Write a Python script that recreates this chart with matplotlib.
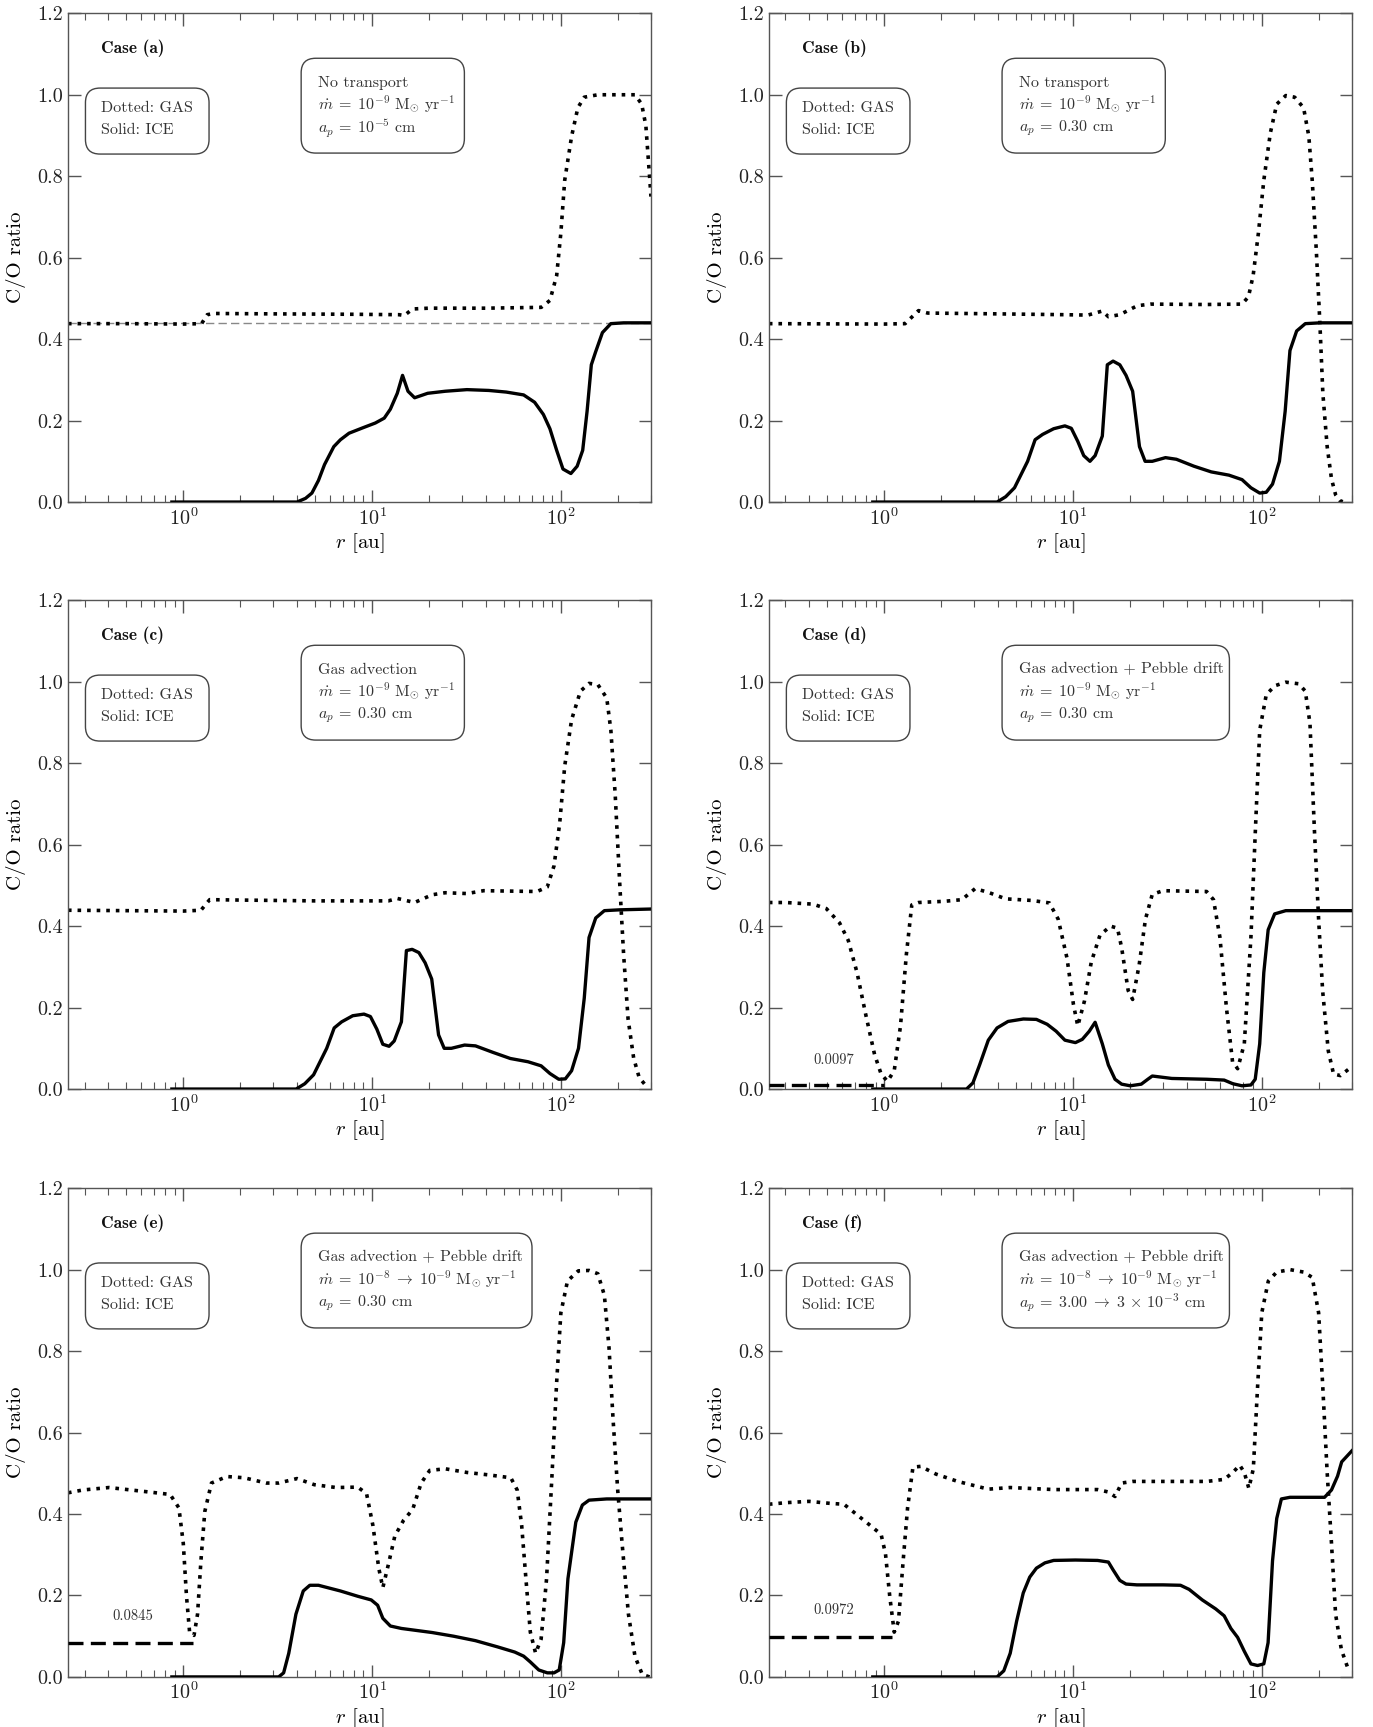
import matplotlib
matplotlib.use('Agg')
import matplotlib.pyplot as plt
from matplotlib.patches import FancyBboxPatch
from matplotlib.ticker import FormatStrFormatter, LogLocator, NullFormatter

plt.rcParams['font.family'] = 'serif'
plt.rcParams['font.serif'] = ['cmr10']
plt.rcParams['mathtext.fontset'] = 'cm'
plt.rcParams['axes.formatter.use_mathtext'] = True
plt.rcParams['axes.unicode_minus'] = False

# ---- data (r in au, C/O ratio) ----
r_gas_a = [0.245, 0.5, 1.0, 1.25, 1.34, 1.45, 3, 8, 13.9, 14.8, 16.4, 20, 40, 78.7, 87.5, 95, 100,
           104.8, 114, 123, 133, 157, 200, 247, 268, 282, 296, 300]
co_gas_a = [0.438, 0.438, 0.437, 0.438, 0.46, 0.463, 0.462, 0.461, 0.460, 0.458, 0.474, 0.476, 0.476,
            0.478, 0.495, 0.556, 0.661, 0.79, 0.898, 0.968, 0.994, 1.0, 1.0, 1.0, 0.977, 0.924, 0.79, 0.75]
r_ice_a = [0.87, 2, 4.0, 4.44, 4.8, 5.2, 5.6, 6.27, 6.8, 7.55, 8.9, 10.4, 11.6, 12.5, 13.6, 14.5, 15.5,
           16.8, 19.7, 24.4, 31.8, 41.5, 51.4, 63.5, 72.6, 80.8, 87.5, 95, 102.6, 113, 122, 130.5,
           137.7, 145, 152.6, 166, 184, 215, 300]
co_ice_a = [0, 0, 0.0, 0.009, 0.022, 0.053, 0.092, 0.136, 0.153, 0.169, 0.182, 0.194, 0.206, 0.228,
            0.267, 0.311, 0.272, 0.256, 0.267, 0.272, 0.276, 0.274, 0.27, 0.263, 0.245, 0.215, 0.18,
            0.127, 0.081, 0.07, 0.088, 0.127, 0.223, 0.337, 0.368, 0.416, 0.438, 0.44, 0.44]

r_gas_b = [0.245, 1.0, 1.29, 1.52, 1.7, 4, 9, 12, 14.3, 15.4, 17.7, 21.9, 25.7, 50, 78.6, 85, 90, 96,
           102.5, 111, 120, 134, 149.4, 166.5, 177.5, 185, 194.5, 203, 210.6, 222, 234, 246, 260, 272]
co_gas_b = [0.438, 0.437, 0.438, 0.47, 0.464, 0.462, 0.46, 0.459, 0.469, 0.455, 0.46, 0.482, 0.486,
            0.485, 0.486, 0.504, 0.556, 0.661, 0.79, 0.906, 0.977, 0.998, 0.994, 0.968, 0.898, 0.79,
            0.617, 0.442, 0.267, 0.136, 0.057, 0.018, 0.003, 0.0]
r_ice_b = [0.87, 2, 3.96, 4.4, 4.9, 5.75, 6.3, 6.9, 7.9, 9.06, 9.8, 10.6, 11.4, 12.3, 13.1, 14.3, 15.2,
           16.3, 17.7, 19.1, 20.7, 22.5, 24.1, 26.3, 30.9, 35.3, 43.7, 54, 67, 78.6, 87.6, 97.5, 105.6,
           114, 124, 133, 141, 153, 170, 204, 300]
co_ice_b = [0, 0, 0.0, 0.013, 0.035, 0.1, 0.153, 0.166, 0.18, 0.187, 0.181, 0.149, 0.114, 0.1, 0.114,
            0.162, 0.337, 0.346, 0.337, 0.311, 0.272, 0.136, 0.1, 0.1, 0.109, 0.105, 0.088, 0.074, 0.066,
            0.055, 0.035, 0.022, 0.024, 0.044, 0.1, 0.223, 0.372, 0.42, 0.438, 0.44, 0.44]

r_gas_c = [0.245, 1.0, 1.24, 1.38, 2, 5, 12.2, 13.6, 16.8, 20.8, 24.4, 31.8, 39, 74.8, 84.7, 92, 98.6,
           104.8, 114, 127, 141, 157, 175, 184, 194, 205, 215, 227, 243, 260, 285]
co_gas_c = [0.439, 0.437, 0.439, 0.465, 0.464, 0.462, 0.462, 0.468, 0.458, 0.477, 0.482, 0.48, 0.487,
            0.485, 0.496, 0.548, 0.653, 0.793, 0.907, 0.977, 0.996, 0.993, 0.96, 0.881, 0.723, 0.505,
            0.33, 0.172, 0.076, 0.028, 0.006]
r_ice_c = [0.87, 2, 3.96, 4.4, 4.9, 5.75, 6.3, 6.9, 7.9, 9.06, 9.8, 10.6, 11.4, 12.3, 13.1, 14.3, 15.2,
           16.3, 17.7, 19.1, 20.7, 22.5, 24.1, 26.3, 30.9, 35.3, 43.7, 54, 67, 78.6, 87.6, 97.5, 105.6,
           114, 124, 133, 141, 153, 170, 204, 300]
co_ice_c = [0, 0, 0.0, 0.013, 0.035, 0.1, 0.15, 0.165, 0.18, 0.184, 0.178, 0.147, 0.11, 0.105, 0.118,
            0.165, 0.34, 0.343, 0.335, 0.31, 0.27, 0.133, 0.1, 0.1, 0.108, 0.106, 0.09, 0.075, 0.067,
            0.057, 0.038, 0.024, 0.025, 0.045, 0.1, 0.223, 0.372, 0.42, 0.438, 0.44, 0.442]

r_gas_d = [0.245, 0.3, 0.42, 0.494, 0.58, 0.645, 0.718, 0.8, 0.889, 0.963, 1.04, 1.13, 1.22, 1.31, 1.4,
           1.52, 2.09, 2.58, 3.03, 3.56, 4.4, 6.07, 7.5, 8.35, 9.3, 10.06, 10.6, 11.5, 12.5, 13.9, 15.8,
           17.2, 18.1, 19.6, 20.7, 22.4, 24.2, 26.3, 30, 51, 55.5, 60, 65, 70, 74.5, 80.8, 87.6, 92.5,
           97.5, 105.6, 117, 134, 157, 170, 180, 190, 200, 210, 225, 240, 261, 300]
co_gas_d = [0.458, 0.458, 0.454, 0.443, 0.408, 0.365, 0.286, 0.181, 0.085, 0.037, 0.019, 0.045, 0.155,
            0.33, 0.452, 0.458, 0.461, 0.465, 0.492, 0.483, 0.467, 0.463, 0.457, 0.417, 0.321, 0.207,
            0.155, 0.216, 0.312, 0.378, 0.4, 0.395, 0.347, 0.242, 0.22, 0.304, 0.417, 0.478, 0.487,
            0.485, 0.465, 0.373, 0.199, 0.067, 0.05, 0.111, 0.373, 0.636, 0.881, 0.968, 0.99, 0.999,
            0.995, 0.977, 0.898, 0.636, 0.417, 0.242, 0.094, 0.037, 0.033, 0.055]
r_ice_d = [0.87, 2.73, 2.95, 3.2, 3.56, 3.96, 4.53, 5.46, 6.4, 7.3, 8.14, 9.06, 10.3, 11.2, 12.2, 13.1,
           14.3, 15.4, 16.7, 18.1, 20.1, 23, 24.9, 26.3, 28.5, 33.4, 51.2, 63.2, 70.3, 78.6, 87.6, 92.3,
           97.5, 102.5, 108.1, 117, 134, 300]
co_ice_d = [0, 0.0, 0.015, 0.059, 0.12, 0.15, 0.166, 0.172, 0.171, 0.159, 0.142, 0.12, 0.114, 0.122,
            0.142, 0.164, 0.111, 0.059, 0.024, 0.012, 0.008, 0.012, 0.024, 0.032, 0.03, 0.026, 0.024,
            0.022, 0.013, 0.008, 0.01, 0.024, 0.111, 0.286, 0.391, 0.43, 0.438, 0.438]

r_gas_e = [0.245, 0.294, 0.404, 0.528, 0.689, 0.852, 0.948, 1.0, 1.04, 1.08, 1.14, 1.19, 1.24, 1.3, 1.41,
           1.7, 2.1, 2.75, 3.2, 4.0, 4.94, 6.45, 8.4, 9.35, 10.1, 10.85, 11.4, 12.2, 13.2, 14.7, 16.4,
           18.2, 20.2, 24.4, 31.8, 41.5, 54.3, 58.7, 62, 65.3, 68.9, 73.5, 78.6, 84, 89.9, 94.9, 100,
           108.4, 123.7, 141, 157, 170, 180, 189, 200, 211, 228, 247, 270, 295]
co_gas_e = [0.452, 0.459, 0.465, 0.459, 0.453, 0.448, 0.415, 0.328, 0.198, 0.11, 0.102, 0.154, 0.285,
            0.406, 0.476, 0.492, 0.489, 0.476, 0.476, 0.487, 0.472, 0.465, 0.466, 0.45, 0.372, 0.267,
            0.219, 0.276, 0.346, 0.385, 0.411, 0.476, 0.507, 0.511, 0.502, 0.496, 0.489, 0.459, 0.372,
            0.241, 0.11, 0.058, 0.093, 0.241, 0.502, 0.72, 0.894, 0.972, 0.997, 0.998, 0.99, 0.937,
            0.807, 0.633, 0.459, 0.328, 0.154, 0.05, 0.006, 0.0]
r_ice_e = [0.87, 3.2, 3.4, 3.62, 3.95, 4.32, 4.68, 5.2, 6.8, 8.4, 9.9, 10.7, 11.4, 12.5, 14.3, 20.8, 27,
           35.3, 46, 57, 63.5, 68.8, 76.4, 84.8, 92, 98, 103.5, 109, 120, 130, 141, 175, 300]
co_ice_e = [0, 0.0, 0.01, 0.058, 0.154, 0.211, 0.225, 0.225, 0.211, 0.198, 0.189, 0.176, 0.144, 0.125,
            0.119, 0.109, 0.1, 0.089, 0.074, 0.061, 0.051, 0.037, 0.017, 0.01, 0.01, 0.017, 0.084,
            0.241, 0.38, 0.422, 0.434, 0.437, 0.437]

r_gas_f = [0.245, 0.306, 0.4, 0.52, 0.612, 0.718, 0.843, 0.963, 1.016, 1.07, 1.13, 1.19, 1.26, 1.33,
           1.42, 1.56, 1.88, 2.45, 3.56, 4.65, 7.92, 13.5, 15.4, 16.7, 18.1, 20.7, 30, 51.2, 63.2,
           70.3, 76.4, 80.8, 85.4, 90.2, 95.2, 100, 108.3, 120, 141, 166.7, 185, 200, 210, 222, 234,
           246, 264, 285]
co_gas_f = [0.424, 0.428, 0.431, 0.426, 0.424, 0.398, 0.372, 0.35, 0.302, 0.198, 0.11, 0.137, 0.285,
            0.415, 0.515, 0.517, 0.498, 0.48, 0.461, 0.465, 0.46, 0.46, 0.454, 0.443, 0.476, 0.48,
            0.48, 0.48, 0.485, 0.502, 0.52, 0.502, 0.463, 0.511, 0.72, 0.894, 0.972, 0.994, 1.0,
            0.994, 0.981, 0.894, 0.72, 0.502, 0.328, 0.154, 0.067, 0.023]
r_ice_f = [0.87, 3.96, 4.3, 4.65, 5.03, 5.45, 5.9, 6.4, 7.1, 7.9, 10.3, 13.5, 15.4, 16.3, 17.7, 19.1,
           21.8, 30, 37.1, 41.2, 48.4, 57, 63.2, 68.6, 74.5, 80.8, 87.6, 95, 102.5, 108, 114, 120, 127,
           141, 215, 234, 252, 265, 300]
co_ice_f = [0, 0.0, 0.015, 0.058, 0.137, 0.206, 0.245, 0.267, 0.28, 0.286, 0.287, 0.286, 0.282, 0.263,
            0.237, 0.228, 0.226, 0.226, 0.225, 0.215, 0.189, 0.167, 0.15, 0.119, 0.097, 0.063, 0.032,
            0.028, 0.032, 0.084, 0.285, 0.389, 0.437, 0.441, 0.441, 0.459, 0.493, 0.528, 0.555]

# initial C/O reference (panel a) and inner-disc floor values (panels d, e, f)
co_initial = 0.44
floor_val = {'d': 0.0097, 'e': 0.0845, 'f': 0.0972}
floor_r = {'d': [0.245, 1.0], 'e': [0.245, 1.12], 'f': [0.245, 1.1]}
floor_label = {'d': '0.0097', 'e': '0.0845', 'f': '0.0972'}
floor_label_y = {'d': 0.07, 'e': 0.149, 'f': 0.165}

cases = ['a', 'b', 'c', 'd', 'e', 'f']
transport = ['No transport', 'No transport', 'Gas advection',
             'Gas advection + Pebble drift', 'Gas advection + Pebble drift',
             'Gas advection + Pebble drift']
mdot = [r'$\dot{m}\;=\;10^{-9}\ \mathrm{M}_{\odot}\ \mathrm{yr}^{-1}$'] * 4 + \
       [r'$\dot{m}\;=\;10^{-8}\;\rightarrow\;10^{-9}\ \mathrm{M}_{\odot}\ \mathrm{yr}^{-1}$'] * 2
apeb = [r'$a_p\,=\;10^{-5}$ cm', r'$a_p\,=\;0.30$ cm', r'$a_p\,=\;0.30$ cm', r'$a_p\,=\;0.30$ cm',
        r'$a_p\,=\;0.30$ cm', r'$a_p\,=\;3.00\;\rightarrow\;3\,\times\,10^{-3}$ cm']
box_right = [0.68, 0.68, 0.68, 0.79, 0.796, 0.79]

gas = {'a': (r_gas_a, co_gas_a), 'b': (r_gas_b, co_gas_b), 'c': (r_gas_c, co_gas_c),
       'd': (r_gas_d, co_gas_d), 'e': (r_gas_e, co_gas_e), 'f': (r_gas_f, co_gas_f)}
ice = {'a': (r_ice_a, co_ice_a), 'b': (r_ice_b, co_ice_b), 'c': (r_ice_c, co_ice_c),
       'd': (r_ice_d, co_ice_d), 'e': (r_ice_e, co_ice_e), 'f': (r_ice_f, co_ice_f)}

fig = plt.figure(figsize=(13.73, 17.27), dpi=100)
lefts = [0.0495, 0.560]
bottoms = [0.7093, 0.3694, 0.029]
W, H = 0.4246, 0.283
spine_c = '#555555'
txt_c = '#333333'

for i, c in enumerate(cases):
    ax = fig.add_axes([lefts[i % 2], bottoms[i // 2], W, H])
    ax.set_xscale('log')
    ax.set_xlim(0.245, 300)
    ax.set_ylim(0, 1.2)

    if c == 'a':
        ax.axhline(co_initial, color='#888888', lw=1.0, ls=(0, (6, 3)), zorder=1)
    if c in floor_val:
        v = floor_val[c]
        ax.plot(floor_r[c], [v, v], color='black', lw=2.4, ls=(0, (4.5, 2.2)), zorder=3)
        ax.text(0.076, floor_label_y[c], floor_label[c], transform=ax.get_yaxis_transform(),
                fontsize=10.5, color=txt_c, va='center')

    rg, cg = gas[c]
    ax.plot(rg, cg, color='black', lw=2.6, ls=':', zorder=2)
    ri, ci = ice[c]
    ax.plot(ri, ci, color='black', lw=2.4, zorder=3)

    ax.set_xlabel(r'$r$ [au]', fontsize=15, labelpad=2)
    ax.set_ylabel('C/O ratio', fontsize=15, labelpad=8)
    ax.set_yticks([0.0, 0.2, 0.4, 0.6, 0.8, 1.0, 1.2])
    ax.yaxis.set_major_formatter(FormatStrFormatter('%.1f'))
    ax.xaxis.set_major_locator(LogLocator(base=10, numticks=10))
    ax.xaxis.set_minor_locator(LogLocator(base=10, subs=range(2, 10), numticks=20))
    ax.xaxis.set_minor_formatter(NullFormatter())
    ax.tick_params(which='both', direction='in', top=True, right=True, colors=spine_c,
                   labelcolor='#222222', labelsize=14.5)
    ax.tick_params(which='major', length=9, width=1)
    ax.tick_params(which='minor', length=5, width=0.8)
    for s in ax.spines.values():
        s.set_color(spine_c)
        s.set_linewidth(1.0)

    asp = (W * 13.73) / (H * 17.27)
    ax.add_patch(FancyBboxPatch((0.03, 0.712), 0.212, 0.135,
                                boxstyle='round,pad=0,rounding_size=0.025', mutation_aspect=asp,
                                transform=ax.transAxes, fc='white', ec='#444444', lw=1.0, zorder=4))
    ax.text(0.057, 0.806, 'Dotted: GAS', transform=ax.transAxes, fontsize=11.5, color=txt_c,
            va='center', zorder=5)
    ax.text(0.057, 0.76, 'Solid: ICE', transform=ax.transAxes, fontsize=11.5, color=txt_c,
            va='center', zorder=5)

    ax.add_patch(FancyBboxPatch((0.40, 0.714), box_right[i] - 0.40, 0.194,
                                boxstyle='round,pad=0,rounding_size=0.025', mutation_aspect=asp,
                                transform=ax.transAxes, fc='white', ec='#444444', lw=1.0, zorder=4))
    ax.text(0.429, 0.858, transport[i], transform=ax.transAxes, fontsize=11.5, color=txt_c,
            va='center', zorder=5)
    ax.text(0.429, 0.813, mdot[i], transform=ax.transAxes, fontsize=11.5, color=txt_c,
            va='center', zorder=5)
    ax.text(0.429, 0.764, apeb[i], transform=ax.transAxes, fontsize=11.5, color=txt_c,
            va='center', zorder=5)

    ax.text(0.057, 0.928, 'Case (%s)' % c, transform=ax.transAxes, fontsize=12.5,
            family='cmb10', color='#111111', va='center')

fig.savefig('out.png', dpi=100)
